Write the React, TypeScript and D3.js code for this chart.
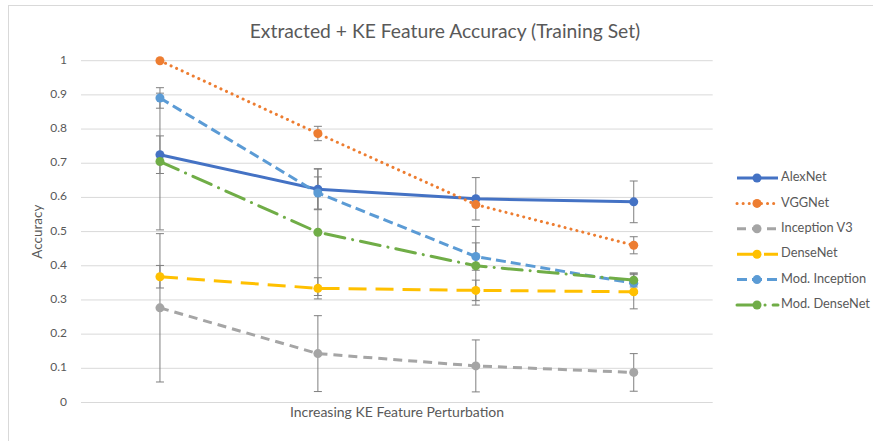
import * as d3 from 'd3';

const categories = ['Level 1', 'Level 2', 'Level 3', 'Level 4'];
const seriesNames = ['AlexNet', 'VGGNet', 'Inception V3', 'DenseNet', 'Mod. Inception', 'Mod. DenseNet'];
const alexNet = [0.725, 0.624, 0.596, 0.587];
const vggNet = [1.0, 0.787, 0.579, 0.46];
const inceptionV3 = [0.277, 0.143, 0.107, 0.088];
const denseNet = [0.368, 0.334, 0.328, 0.324];
const modInception = [0.891, 0.613, 0.427, 0.349];
const modDenseNet = [0.705, 0.498, 0.4, 0.358];
// +/- error per point
const alexErr = [0.055, 0.06, 0.062, 0.061];
const vggErr = [0, 0.021, 0, 0.025];
const inceptionErr = [0.217, 0.111, 0.076, 0.055];
const denseErr = [0.033, 0.031, 0.03, 0.05];
const modInceptionErr = [0.03, 0.047, 0.04, 0.03];
const modDenseErr = [0.2, 0.185, 0.115, 0.02];
const yTicks = [0, 0.1, 0.2, 0.3, 0.4, 0.5, 0.6, 0.7, 0.8, 0.9, 1];

const colors = ['#4472C4', '#ED7D31', '#A5A5A5', '#FFC000', '#5B9BD5', '#70AD47'];
const dashes = ['none', '0.1 6', '9 6', '18 9', '10 5', '20 8 0.1 8'];
const allValues = [alexNet, vggNet, inceptionV3, denseNet, modInception, modDenseNet];
const allErrors = [alexErr, vggErr, inceptionErr, denseErr, modInceptionErr, modDenseErr];

const width = 873;
const height = 441;
const FONT = 'Lato, "Open Sans", sans-serif';

export default function App() {
  const x = d3.scalePoint<string>().domain(categories).range([81, 712.7]).padding(0.5);
  const y = d3.scaleLinear().domain([0, 1]).range([402.5, 60.7]);
  const line = d3
    .line<number>()
    .x((_, i) => x(categories[i]) ?? 0)
    .y((d) => y(d));

  const order = [0, 1, 2, 3, 4, 5];

  return (
    <svg width={width} height={height} style={{ position: 'absolute', left: 0, top: 0, fontFamily: FONT }}>
      <rect x={0} y={0} width={width} height={height} fill="#fff" />
      <rect x={8.5} y={5.5} width={width + 20} height={height + 20} fill="none" stroke="#d9d9d9" strokeWidth={1} />

      {/* title */}
      <text x={445} y={38} textAnchor="middle" fontSize={19.3} fill="#595959">
        Extracted + KE Feature Accuracy (Training Set)
      </text>

      {/* grid + y ticks */}
      {yTicks.map((t) => (
        <g key={t}>
          <line x1={81} x2={712.7} y1={y(t)} y2={y(t)} stroke="#d9d9d9" strokeWidth={1} />
          <text x={67} y={y(t)} textAnchor="end" dominantBaseline="middle" fontSize={12} fill="#595959">
            {t}
          </text>
        </g>
      ))}

      <text
        transform={`translate(39,${(y(0) + y(1)) / 2}) rotate(-90)`}
        textAnchor="middle"
        dominantBaseline="middle"
        fontSize={13.5}
        fill="#595959"
      >
        Accuracy
      </text>
      <text x={397} y={417} textAnchor="middle" fontSize={14} fill="#595959">
        Increasing KE Feature Perturbation
      </text>

      {/* error bars */}
      {order.map((s) =>
        allValues[s].map((v, i) => {
          const e = allErrors[s][i];
          if (!e) return null;
          const cx = x(categories[i]) ?? 0;
          return (
            <g key={`e${s}-${i}`} stroke="#7f7f7f" strokeWidth={1}>
              <line x1={cx} x2={cx} y1={y(v + e)} y2={y(v - e)} />
              <line x1={cx - 4} x2={cx + 4} y1={y(v + e)} y2={y(v + e)} />
              <line x1={cx - 4} x2={cx + 4} y1={y(v - e)} y2={y(v - e)} />
            </g>
          );
        })
      )}

      {/* lines */}
      {order.map((s) => (
        <g key={`s${s}`}>
          <path
            d={line(allValues[s]) ?? ''}
            fill="none"
            stroke={colors[s]}
            strokeWidth={3}
            strokeDasharray={dashes[s] === 'none' ? undefined : dashes[s]}
            strokeLinecap={s === 1 || s === 5 ? 'round' : 'butt'}
            strokeLinejoin="round"
          />
          {allValues[s].map((v, i) => (
            <circle key={i} cx={x(categories[i]) ?? 0} cy={y(v)} r={4.5} fill={colors[s]} />
          ))}
        </g>
      ))}

      {/* legend */}
      {seriesNames.map((name, s) => {
        const ly = 178 + s * 25.4;
        return (
          <g key={name}>
            <line
              x1={737}
              x2={778}
              y1={ly}
              y2={ly}
              stroke={colors[s]}
              strokeWidth={3}
              strokeDasharray={dashes[s] === 'none' ? undefined : dashes[s]}
              strokeLinecap={s === 1 || s === 5 ? 'round' : 'butt'}
            />
            <circle cx={757} cy={ly} r={4.5} fill={colors[s]} />
            <text x={781} y={ly} dominantBaseline="middle" fontSize={12.8} fill="#595959">
              {name}
            </text>
          </g>
        );
      })}
    </svg>
  );
}
